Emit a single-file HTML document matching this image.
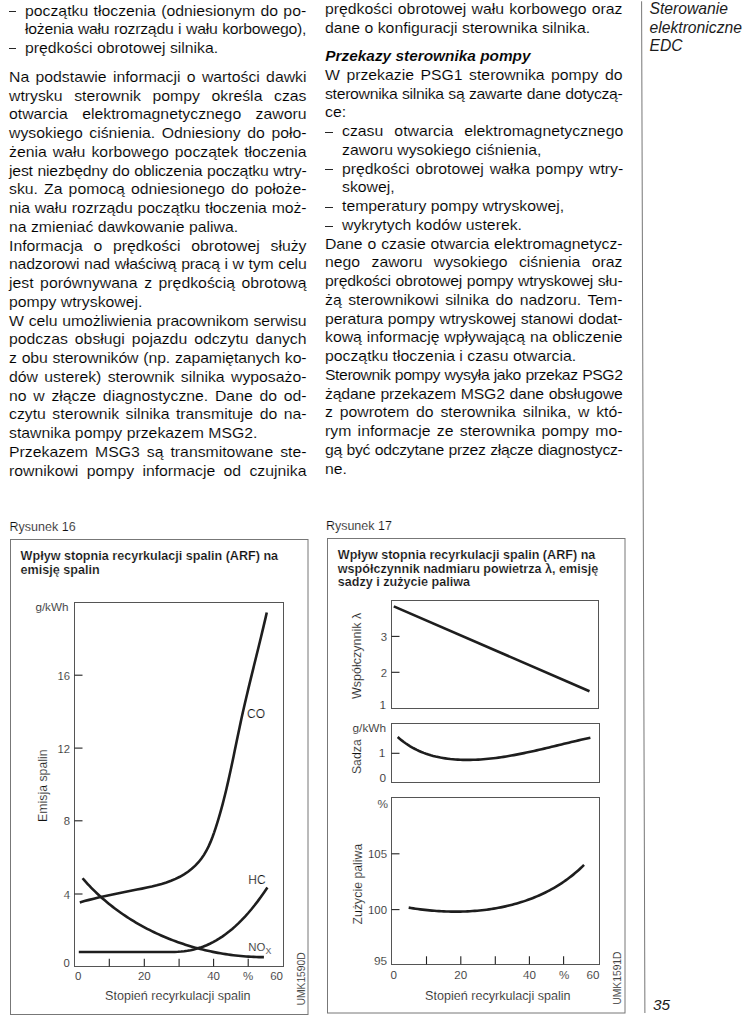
<!DOCTYPE html>
<html><head><meta charset="utf-8">
<style>
html,body{margin:0;padding:0;background:#fff;}
#page{position:relative;width:752px;height:1029px;overflow:hidden;background:#fff;}
.t{position:absolute;white-space:nowrap;font-family:"Liberation Sans",sans-serif;font-size:14.8px;line-height:20px;color:#000;-webkit-text-stroke:0.12px #fff;transform-origin:0 0;}
.fig{position:absolute;left:0;top:0;}
.fig text{stroke:#fff;stroke-width:0.18px;}
.side{position:absolute;font-family:"Liberation Sans",sans-serif;font-style:italic;font-size:15.7px;line-height:18.5px;color:#1c1c1c;white-space:nowrap;}
</style></head><body><div id="page">
<div class="t" style="left:24.80px;top:0.67px;word-spacing:0.870px;transform:scaleX(1.0676);">początku tłoczenia (odniesionym do po-</div>
<div style="position:absolute;left:8.60px;top:11px;width:7.6px;height:1px;background:#262626;"></div>
<div class="t" style="left:24.80px;top:19.27px;letter-spacing:-0.242px;word-spacing:0.500px;transform:scaleX(1.0676);">łożenia wału rozrządu i wału korbowego),</div>
<div class="t" style="left:24.80px;top:37.87px;transform:scaleX(1.0676);">prędkości obrotowej silnika.</div>
<div style="position:absolute;left:8.60px;top:48px;width:7.6px;height:1px;background:#262626;"></div>
<div class="t" style="left:8.50px;top:66.77px;word-spacing:1.784px;transform:scaleX(1.0676);">Na podstawie informacji o wartości dawki</div>
<div class="t" style="left:8.50px;top:85.52px;word-spacing:6.758px;transform:scaleX(1.0676);">wtrysku sterownik pompy określa czas</div>
<div class="t" style="left:8.50px;top:104.27px;word-spacing:9.382px;transform:scaleX(1.0676);">otwarcia elektromagnetycznego zaworu</div>
<div class="t" style="left:8.50px;top:123.02px;word-spacing:2.015px;transform:scaleX(1.0676);">wysokiego ciśnienia. Odniesiony do poło-</div>
<div class="t" style="left:8.50px;top:141.77px;word-spacing:1.601px;transform:scaleX(1.0676);">żenia wału korbowego początek tłoczenia</div>
<div class="t" style="left:8.50px;top:160.52px;letter-spacing:-0.196px;word-spacing:0.500px;transform:scaleX(1.0676);">jest niezbędny do obliczenia początku wtry-</div>
<div class="t" style="left:8.50px;top:179.27px;word-spacing:1.606px;transform:scaleX(1.0676);">sku. Za pomocą odniesionego do położe-</div>
<div class="t" style="left:8.50px;top:198.02px;letter-spacing:-0.064px;word-spacing:0.500px;transform:scaleX(1.0676);">nia wału rozrządu początku tłoczenia moż-</div>
<div class="t" style="left:8.50px;top:216.77px;transform:scaleX(1.0676);">na zmieniać dawkowanie paliwa.</div>
<div class="t" style="left:8.50px;top:235.52px;word-spacing:5.929px;transform:scaleX(1.0676);">Informacja o prędkości obrotowej służy</div>
<div class="t" style="left:8.50px;top:254.27px;letter-spacing:-0.169px;word-spacing:0.500px;transform:scaleX(1.0676);">nadzorowi nad właściwą pracą i w tym celu</div>
<div class="t" style="left:8.50px;top:273.02px;word-spacing:2.015px;transform:scaleX(1.0676);">jest porównywana z prędkością obrotową</div>
<div class="t" style="left:8.50px;top:291.77px;transform:scaleX(1.0676);">pompy wtryskowej.</div>
<div class="t" style="left:8.50px;top:310.52px;letter-spacing:-0.075px;word-spacing:0.500px;transform:scaleX(1.0676);">W celu umożliwienia pracownikom serwisu</div>
<div class="t" style="left:8.50px;top:329.27px;word-spacing:2.418px;transform:scaleX(1.0676);">podczas obsługi pojazdu odczytu danych</div>
<div class="t" style="left:8.50px;top:348.02px;letter-spacing:-0.087px;word-spacing:0.500px;transform:scaleX(1.0676);">z obu sterowników (np. zapamiętanych ko-</div>
<div class="t" style="left:8.50px;top:366.77px;word-spacing:1.820px;transform:scaleX(1.0676);">dów usterek) sterownik silnika wyposażo-</div>
<div class="t" style="left:8.50px;top:385.52px;word-spacing:2.164px;transform:scaleX(1.0676);">no w złącze diagnostyczne. Dane do od-</div>
<div class="t" style="left:8.50px;top:404.27px;word-spacing:1.950px;transform:scaleX(1.0676);">czytu sterownik silnika transmituje do na-</div>
<div class="t" style="left:8.50px;top:423.02px;transform:scaleX(1.0676);">stawnika pompy przekazem MSG2.</div>
<div class="t" style="left:8.50px;top:441.77px;word-spacing:2.441px;transform:scaleX(1.0676);">Przekazem MSG3 są transmitowane ste-</div>
<div class="t" style="left:8.50px;top:460.52px;word-spacing:3.668px;transform:scaleX(1.0676);">rownikowi pompy informacje od czujnika</div>
<div class="t" style="left:325.30px;top:-1.13px;word-spacing:0.781px;transform:scaleX(1.0676);">prędkości obrotowej wału korbowego oraz</div>
<div class="t" style="left:325.30px;top:17.62px;transform:scaleX(1.0676);">dane o konfiguracji sterownika silnika.</div>
<div class="t" style="left:325.30px;top:45.97px;font-weight:bold;font-style:italic;font-size:15.4px">Przekazy sterownika pompy</div>
<div class="t" style="left:325.30px;top:64.97px;word-spacing:1.947px;transform:scaleX(1.0676);">W przekazie PSG1 sterownika pompy do</div>
<div class="t" style="left:325.30px;top:83.72px;letter-spacing:-0.291px;word-spacing:0.500px;transform:scaleX(1.0676);">sterownika silnika są zawarte dane dotyczą-</div>
<div class="t" style="left:325.30px;top:102.47px;transform:scaleX(1.0676);">ce:</div>
<div class="t" style="left:341.60px;top:121.22px;word-spacing:6.272px;transform:scaleX(1.0676);">czasu otwarcia elektromagnetycznego</div>
<div style="position:absolute;left:325.40px;top:132px;width:7.6px;height:1px;background:#262626;"></div>
<div class="t" style="left:341.60px;top:139.97px;transform:scaleX(1.0676);">zaworu wysokiego ciśnienia,</div>
<div class="t" style="left:341.60px;top:158.72px;word-spacing:1.292px;transform:scaleX(1.0676);">prędkości obrotowej wałka pompy wtry-</div>
<div style="position:absolute;left:325.40px;top:169px;width:7.6px;height:1px;background:#262626;"></div>
<div class="t" style="left:341.60px;top:177.47px;transform:scaleX(1.0676);">skowej,</div>
<div class="t" style="left:341.60px;top:196.22px;transform:scaleX(1.0676);">temperatury pompy wtryskowej,</div>
<div style="position:absolute;left:325.40px;top:207px;width:7.6px;height:1px;background:#262626;"></div>
<div class="t" style="left:341.60px;top:214.97px;transform:scaleX(1.0676);">wykrytych kodów usterek.</div>
<div style="position:absolute;left:325.40px;top:226px;width:7.6px;height:1px;background:#262626;"></div>
<div class="t" style="left:325.30px;top:233.72px;letter-spacing:-0.033px;word-spacing:0.500px;transform:scaleX(1.0676);">Dane o czasie otwarcia elektromagnetycz-</div>
<div class="t" style="left:325.30px;top:252.47px;word-spacing:6.539px;transform:scaleX(1.0676);">nego zaworu wysokiego ciśnienia oraz</div>
<div class="t" style="left:325.30px;top:271.22px;letter-spacing:-0.192px;word-spacing:0.500px;transform:scaleX(1.0676);">prędkości obrotowej pompy wtryskowej słu-</div>
<div class="t" style="left:325.30px;top:289.97px;word-spacing:2.003px;transform:scaleX(1.0676);">żą sterownikowi silnika do nadzoru. Tem-</div>
<div class="t" style="left:325.30px;top:308.72px;letter-spacing:-0.095px;word-spacing:0.500px;transform:scaleX(1.0676);">peratura pompy wtryskowej stanowi dodat-</div>
<div class="t" style="left:325.30px;top:327.47px;letter-spacing:-0.013px;word-spacing:0.500px;transform:scaleX(1.0676);">kową informację wpływającą na obliczenie</div>
<div class="t" style="left:325.30px;top:346.22px;transform:scaleX(1.0676);">początku tłoczenia i czasu otwarcia.</div>
<div class="t" style="left:325.30px;top:364.97px;letter-spacing:-0.415px;word-spacing:0.500px;transform:scaleX(1.0676);">Sterownik pompy wysyła jako przekaz PSG2</div>
<div class="t" style="left:325.30px;top:383.72px;letter-spacing:-0.175px;word-spacing:0.500px;transform:scaleX(1.0676);">żądane przekazem MSG2 dane obsługowe</div>
<div class="t" style="left:325.30px;top:402.47px;word-spacing:2.310px;transform:scaleX(1.0676);">z powrotem do sterownika silnika, w któ-</div>
<div class="t" style="left:325.30px;top:421.22px;word-spacing:1.790px;transform:scaleX(1.0676);">rym informacje ze sterownika pompy mo-</div>
<div class="t" style="left:325.30px;top:439.97px;letter-spacing:-0.298px;word-spacing:0.500px;transform:scaleX(1.0676);">gą być odczytane przez złącze diagnostycz-</div>
<div class="t" style="left:325.30px;top:458.72px;transform:scaleX(1.0676);">ne.</div>
<div class="side" style="left:649.5px;top:0.4px;">Sterowanie<br>elektroniczne<br>EDC</div>
<div class="side" style="left:653px;top:995.5px;font-size:15.4px;">35</div>
<svg width="752" height="1029" style="position:absolute;left:0;top:0"><line x1="641.6" y1="1.3" x2="644.9" y2="1013" stroke="#666" stroke-width="0.9"/></svg>
<svg class="fig" width="752" height="1029" viewBox="0 0 752 1029" font-family="Liberation Sans, sans-serif" fill="#111">
<text x="9.6" y="531" font-size="12.5" text-anchor="start" font-weight="normal" >Rysunek 16</text>
<rect x="10.5" y="539.5" width="297.5" height="475.0" fill="none" stroke="#777" stroke-width="1"/>
<text x="20.6" y="559.6" font-size="12.6" text-anchor="start" font-weight="bold" >Wpływ stopnia recyrkulacji spalin (ARF) na</text>
<text x="20.6" y="573.5" font-size="12.6" text-anchor="start" font-weight="bold" >emisję spalin</text>
<rect x="74.5" y="602.5" width="209.0" height="364.0" fill="none" stroke="#555" stroke-width="1"/>
<line x1="74.5" y1="675.2" x2="82.5" y2="675.2" stroke="#222" stroke-width="1.1"/>
<text x="70.0" y="679.8000000000001" font-size="11.3" text-anchor="end" font-weight="normal" >16</text>
<line x1="74.5" y1="748.1" x2="82.5" y2="748.1" stroke="#222" stroke-width="1.1"/>
<text x="70.0" y="752.7" font-size="11.3" text-anchor="end" font-weight="normal" >12</text>
<line x1="74.5" y1="820.8" x2="82.5" y2="820.8" stroke="#222" stroke-width="1.1"/>
<text x="70.0" y="825.4" font-size="11.3" text-anchor="end" font-weight="normal" >8</text>
<line x1="74.5" y1="894.0" x2="82.5" y2="894.0" stroke="#222" stroke-width="1.1"/>
<text x="70.0" y="898.6" font-size="11.3" text-anchor="end" font-weight="normal" >4</text>
<text x="69.8" y="966.8" font-size="11.3" text-anchor="end" font-weight="normal" >0</text>
<text x="68.5" y="610.6" font-size="11.7" text-anchor="end" font-weight="normal" >g/kWh</text>
<text transform="translate(46.9,821.9) rotate(-90)" font-size="12.3" >Emisja spalin</text>
<line x1="109.3" y1="958.7" x2="109.3" y2="966.5" stroke="#222" stroke-width="1.1"/>
<line x1="144.3" y1="958.7" x2="144.3" y2="966.5" stroke="#222" stroke-width="1.1"/>
<line x1="179.1" y1="958.7" x2="179.1" y2="966.5" stroke="#222" stroke-width="1.1"/>
<line x1="213.6" y1="958.7" x2="213.6" y2="966.5" stroke="#222" stroke-width="1.1"/>
<line x1="248.2" y1="958.7" x2="248.2" y2="966.5" stroke="#222" stroke-width="1.1"/>
<text x="78.2" y="980.2" font-size="11.5" text-anchor="middle" font-weight="normal" >0</text>
<text x="144.3" y="980.2" font-size="11.5" text-anchor="middle" font-weight="normal" >20</text>
<text x="213.6" y="980.2" font-size="11.5" text-anchor="middle" font-weight="normal" >40</text>
<text x="248.2" y="980.2" font-size="11.5" text-anchor="middle" font-weight="normal" >%</text>
<text x="276.6" y="980.2" font-size="11.5" text-anchor="middle" font-weight="normal" >60</text>
<text x="105.0" y="1000.2" font-size="12.6" text-anchor="start" font-weight="normal" >Stopień recyrkulacji spalin</text>
<text transform="translate(304.5,1005.5) rotate(-90)" font-size="10.3" >UMK1590D</text>
<path d="M79.79,902.39 L84.44,901.10 L89.10,899.87 L93.78,898.70 L98.47,897.57 L103.18,896.49 L107.91,895.44 L112.67,894.42 L117.46,893.43 L122.28,892.45 L127.14,891.49 L132.05,890.54 L136.99,889.59 L141.96,888.62 L146.93,887.59 L151.88,886.50 L156.79,885.29 L161.64,883.96 L166.39,882.47 L171.03,880.80 L175.54,878.91 L179.89,876.78 L184.05,874.39 L188.02,871.74 L191.76,868.83 L195.26,865.67 L198.50,862.24 L201.45,858.55 L204.12,854.61 L206.53,850.46 L208.71,846.13 L210.69,841.64 L212.51,837.04 L214.19,832.36 L215.77,827.62 L217.27,822.87 L218.71,818.11 L220.09,813.34 L221.42,808.57 L222.71,803.80 L223.94,799.02 L225.14,794.24 L226.30,789.45 L227.42,784.67 L228.51,779.88 L229.58,775.09 L230.63,770.29 L231.65,765.50 L232.66,760.71 L233.66,755.91 L234.65,751.11 L235.64,746.32 L236.62,741.52 L237.61,736.73 L238.61,731.94 L239.62,727.15 L240.64,722.36 L241.68,717.57 L242.74,712.79 L243.83,708.01 L244.92,703.23 L246.04,698.45 L247.17,693.68 L248.31,688.90 L249.46,684.13 L250.62,679.36 L251.78,674.59 L252.96,669.82 L254.13,665.05 L255.31,660.28 L256.48,655.51 L257.66,650.75 L258.83,645.98 L259.99,641.21 L261.15,636.44 L262.30,631.67 L263.44,626.90 L264.56,622.12 L265.68,617.35 L266.77,612.57" fill="none" stroke="#1e1e1e" stroke-width="2.6" stroke-linecap="butt"/>
<path d="M82.56,878.25 L84.26,880.21 L85.99,882.13 L87.74,884.04 L89.51,885.92 L91.31,887.78 L93.12,889.61 L94.96,891.42 L96.83,893.20 L98.71,894.96 L100.61,896.70 L102.54,898.41 L104.48,900.10 L106.45,901.76 L108.44,903.41 L110.44,905.02 L112.46,906.61 L114.51,908.18 L116.57,909.72 L118.65,911.24 L120.74,912.74 L122.86,914.21 L124.99,915.66 L127.14,917.08 L129.30,918.48 L131.48,919.85 L133.68,921.20 L135.89,922.52 L138.12,923.82 L140.36,925.10 L142.62,926.35 L144.89,927.58 L147.17,928.78 L149.47,929.95 L151.78,931.11 L154.11,932.24 L156.44,933.34 L158.79,934.42 L161.15,935.47 L163.52,936.50 L165.90,937.51 L168.30,938.49 L170.70,939.44 L173.12,940.37 L175.54,941.28 L177.97,942.16 L180.41,943.01 L182.86,943.85 L185.32,944.65 L187.79,945.43 L190.27,946.19 L192.75,946.92 L195.24,947.63 L197.74,948.31 L200.24,948.96 L202.75,949.59 L205.26,950.20 L207.78,950.78 L210.31,951.34 L212.84,951.87 L215.37,952.37 L217.91,952.85 L220.45,953.31 L223.00,953.74 L225.55,954.14 L228.10,954.52 L230.65,954.87 L233.21,955.20 L235.77,955.50 L238.33,955.78 L240.89,956.03 L243.45,956.26 L246.01,956.46 L248.57,956.64 L251.13,956.79 L253.69,956.91 L256.25,957.01 L258.81,957.08 L261.37,957.13 L263.92,957.15" fill="none" stroke="#1e1e1e" stroke-width="2.6" stroke-linecap="butt"/>
<path d="M78.80,952.00 L82.00,952.00 L85.19,952.00 L88.39,952.00 L91.59,952.00 L94.78,952.00 L97.98,952.00 L101.18,952.00 L104.37,952.00 L107.57,952.00 L110.77,952.00 L113.96,952.00 L117.16,952.00 L120.36,952.00 L123.55,952.00 L126.75,952.00 L129.95,952.00 L133.14,952.00 L136.34,952.00 L139.54,952.00 L142.73,952.00 L145.93,952.00 L149.13,952.00 L152.32,952.00 L155.52,952.00 L158.72,952.00 L161.91,952.00 L165.11,952.00 L168.31,952.00 L171.50,952.00 L174.70,951.94 L177.89,951.80 L181.09,951.56 L184.29,951.22 L187.48,950.76 L190.68,950.17 L193.88,949.46 L197.07,948.60 L200.27,947.61 L203.47,946.47 L206.66,945.18 L209.86,943.73 L213.06,942.12 L216.25,940.36 L219.45,938.42 L222.65,936.32 L225.84,934.04 L229.04,931.59 L232.24,928.95 L235.43,926.14 L238.63,923.14 L241.83,919.96 L245.02,916.58 L248.22,913.01 L251.42,909.25 L254.61,905.29 L257.81,901.13 L261.01,896.77 L264.20,892.21 L267.40,887.44" fill="none" stroke="#1e1e1e" stroke-width="2.6" stroke-linecap="butt"/>
<text x="247.0" y="718.2" font-size="12" text-anchor="start" font-weight="normal" >CO</text>
<text x="248.3" y="884.3" font-size="12" text-anchor="start" font-weight="normal" >HC</text>
<text x="248.3" y="950.8" font-size="11.4" text-anchor="start" font-weight="normal" >NO</text>
<text x="265.6" y="953.6" font-size="8.8" text-anchor="start" font-weight="normal" >X</text>
<text x="325.9" y="529.8" font-size="12.5" text-anchor="start" font-weight="normal" >Rysunek 17</text>
<rect x="327.5" y="538.5" width="297.5" height="474.5" fill="none" stroke="#777" stroke-width="1"/>
<text x="337.8" y="558.8" font-size="12.6" text-anchor="start" font-weight="bold" >Wpływ stopnia recyrkulacji spalin (ARF) na</text>
<text x="337.8" y="572.6" font-size="12.6" text-anchor="start" font-weight="bold" >współczynnik nadmiaru powietrza λ, emisję</text>
<text x="337.8" y="586.4" font-size="12.6" text-anchor="start" font-weight="bold" >sadzy i zużycie paliwa</text>
<rect x="391.5" y="600.5" width="207.0" height="108.0" fill="none" stroke="#555" stroke-width="1"/>
<line x1="391.5" y1="636.4" x2="399.5" y2="636.4" stroke="#222" stroke-width="1.1"/>
<text x="387.0" y="640.6" font-size="11.4" text-anchor="end" font-weight="normal" >3</text>
<line x1="391.5" y1="672.3" x2="399.5" y2="672.3" stroke="#222" stroke-width="1.1"/>
<text x="387.0" y="676.5" font-size="11.4" text-anchor="end" font-weight="normal" >2</text>
<text x="386.0" y="709.0" font-size="11.8" text-anchor="end" font-weight="normal" >1</text>
<text transform="translate(361.3,699.0) rotate(-90)" font-size="12.5" >Współczynnik λ</text>
<path d="M393.8,606.4 L589.5,691.2" fill="none" stroke="#1e1e1e" stroke-width="2.6" stroke-linecap="butt"/>
<rect x="391.5" y="723.5" width="208.0" height="59.0" fill="none" stroke="#555" stroke-width="1"/>
<line x1="391.5" y1="753.3" x2="399.5" y2="753.3" stroke="#222" stroke-width="1.1"/>
<text x="385.3" y="757.0" font-size="11.8" text-anchor="end" font-weight="normal" >1</text>
<text x="386.0" y="782.3" font-size="11.8" text-anchor="end" font-weight="normal" >0</text>
<text x="386.0" y="732.3" font-size="11.8" text-anchor="end" font-weight="normal" >g/kWh</text>
<text transform="translate(360.6,774.1) rotate(-90)" font-size="12.3" >Sadza</text>
<path d="M397.67,736.95 L399.68,738.72 L401.72,740.39 L403.79,741.99 L405.90,743.50 L408.03,744.93 L410.19,746.28 L412.38,747.56 L414.60,748.76 L416.84,749.89 L419.11,750.95 L421.40,751.94 L423.71,752.86 L426.05,753.71 L428.40,754.50 L430.77,755.23 L433.16,755.90 L435.57,756.51 L437.99,757.06 L440.43,757.56 L442.89,758.00 L445.35,758.39 L447.83,758.73 L450.32,759.03 L452.82,759.27 L455.32,759.48 L457.84,759.64 L460.36,759.76 L462.88,759.84 L465.41,759.88 L467.95,759.89 L470.48,759.87 L473.02,759.81 L475.57,759.71 L478.11,759.59 L480.66,759.43 L483.21,759.25 L485.76,759.04 L488.31,758.80 L490.86,758.53 L493.41,758.24 L495.97,757.92 L498.52,757.59 L501.07,757.22 L503.63,756.84 L506.18,756.44 L508.73,756.01 L511.28,755.57 L513.82,755.11 L516.37,754.64 L518.91,754.14 L521.45,753.64 L523.99,753.12 L526.53,752.59 L529.06,752.05 L531.58,751.49 L534.11,750.93 L536.63,750.36 L539.14,749.78 L541.65,749.20 L544.16,748.61 L546.66,748.01 L549.15,747.42 L551.64,746.82 L554.12,746.22 L556.59,745.62 L559.06,745.01 L561.52,744.42 L563.98,743.82 L566.42,743.23 L568.86,742.64 L571.29,742.06 L573.71,741.48 L576.12,740.91 L578.52,740.36 L580.92,739.81 L583.30,739.27 L585.68,738.74 L588.04,738.23 L590.39,737.73" fill="none" stroke="#1e1e1e" stroke-width="2.6" stroke-linecap="butt"/>
<rect x="391.5" y="797.5" width="208.0" height="167.0" fill="none" stroke="#555" stroke-width="1"/>
<line x1="391.5" y1="853.8" x2="399.5" y2="853.8" stroke="#222" stroke-width="1.1"/>
<text x="387.0" y="858.0" font-size="11.4" text-anchor="end" font-weight="normal" >105</text>
<line x1="391.5" y1="909.6" x2="399.5" y2="909.6" stroke="#222" stroke-width="1.1"/>
<text x="387.0" y="913.8000000000001" font-size="11.4" text-anchor="end" font-weight="normal" >100</text>
<text x="387.0" y="964.6" font-size="11.8" text-anchor="end" font-weight="normal" >95</text>
<text x="388.0" y="808.0" font-size="11.8" text-anchor="end" font-weight="normal" >%</text>
<text transform="translate(362.0,924.4) rotate(-90)" font-size="12.3" >Zużycie paliwa</text>
<line x1="426.5" y1="956.3" x2="426.5" y2="964.3" stroke="#222" stroke-width="1.1"/>
<line x1="460.8" y1="956.3" x2="460.8" y2="964.3" stroke="#222" stroke-width="1.1"/>
<line x1="495.3" y1="956.3" x2="495.3" y2="964.3" stroke="#222" stroke-width="1.1"/>
<line x1="529.4" y1="956.3" x2="529.4" y2="964.3" stroke="#222" stroke-width="1.1"/>
<line x1="563.6" y1="956.3" x2="563.6" y2="964.3" stroke="#222" stroke-width="1.1"/>
<text x="393.8" y="978.6" font-size="11.6" text-anchor="middle" font-weight="normal" >0</text>
<text x="460.8" y="978.6" font-size="11.6" text-anchor="middle" font-weight="normal" >20</text>
<text x="529.4" y="978.6" font-size="11.6" text-anchor="middle" font-weight="normal" >40</text>
<text x="564.2" y="978.6" font-size="11.6" text-anchor="middle" font-weight="normal" >%</text>
<text x="593.0" y="978.6" font-size="11.6" text-anchor="middle" font-weight="normal" >60</text>
<text x="425.0" y="999.6" font-size="12.6" text-anchor="start" font-weight="normal" >Stopień recyrkulacji spalin</text>
<text transform="translate(620.6,1004.7) rotate(-90)" font-size="10.3" >UMK1591D</text>
<path d="M408.68,907.63 L410.98,908.01 L413.28,908.37 L415.59,908.71 L417.91,909.04 L420.23,909.34 L422.57,909.63 L424.90,909.90 L427.25,910.15 L429.60,910.39 L431.96,910.60 L434.32,910.79 L436.68,910.97 L439.05,911.12 L441.43,911.26 L443.80,911.37 L446.18,911.47 L448.56,911.54 L450.95,911.59 L453.33,911.62 L455.72,911.63 L458.11,911.62 L460.49,911.58 L462.88,911.53 L465.27,911.45 L467.65,911.34 L470.04,911.22 L472.42,911.07 L474.81,910.89 L477.18,910.70 L479.56,910.48 L481.93,910.23 L484.30,909.96 L486.67,909.67 L489.03,909.35 L491.39,909.00 L493.74,908.63 L496.08,908.23 L498.42,907.81 L500.75,907.36 L503.08,906.89 L505.40,906.38 L507.71,905.85 L510.01,905.30 L512.30,904.71 L514.59,904.10 L516.86,903.46 L519.13,902.79 L521.38,902.09 L523.63,901.37 L525.86,900.61 L528.08,899.83 L530.29,899.01 L532.49,898.17 L534.68,897.29 L536.85,896.39 L539.01,895.45 L541.16,894.49 L543.29,893.49 L545.41,892.46 L547.51,891.40 L549.59,890.31 L551.66,889.19 L553.72,888.03 L555.75,886.84 L557.77,885.62 L559.78,884.36 L561.76,883.08 L563.73,881.75 L565.68,880.40 L567.61,879.01 L569.51,877.58 L571.40,876.13 L573.27,874.63 L575.12,873.10 L576.95,871.54 L578.75,869.94 L580.54,868.30 L582.30,866.63 L584.04,864.93" fill="none" stroke="#1e1e1e" stroke-width="2.6" stroke-linecap="butt"/>
</svg>
</div></body></html>
